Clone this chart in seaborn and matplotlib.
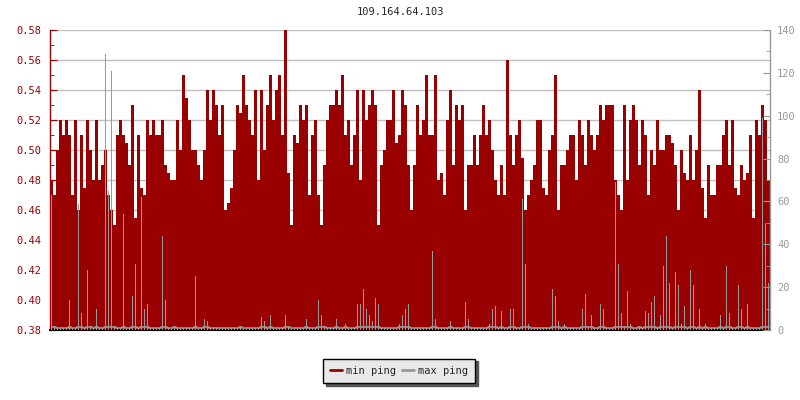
import numpy as np
import pandas as pd
import matplotlib
matplotlib.use('Agg')
import matplotlib.pyplot as plt
import seaborn as sns
from matplotlib.ticker import MultipleLocator, FormatStrFormatter
from matplotlib.lines import Line2D

host = '109.164.64.103'
tick_labels = ['18:10', '20:11', '22:13', '00:14', '02:15', '04:16',
               '06:17', '08:19', '10:20', '12:22', '14:23', '16:24']

# one sample every 6 minutes, 24 hours
min_ping = [
    0.48, 0.47, 0.50, 0.52, 0.51, 0.52, 0.51, 0.47, 0.52, 0.46,
    0.51, 0.475, 0.52, 0.50, 0.48, 0.52, 0.48, 0.49, 0.50, 0.47,
    0.46, 0.45, 0.51, 0.52, 0.51, 0.505, 0.49, 0.53, 0.455, 0.51,
    0.475, 0.47, 0.52, 0.51, 0.52, 0.51, 0.51, 0.52, 0.49, 0.485,
    0.48, 0.48, 0.52, 0.50, 0.55, 0.535, 0.52, 0.50,
    0.50, 0.49, 0.48, 0.50, 0.54, 0.52, 0.54, 0.53, 0.51, 0.53,
    0.46, 0.465, 0.475, 0.50, 0.53, 0.525, 0.55, 0.53, 0.52, 0.51,
    0.54, 0.48, 0.54, 0.50, 0.53, 0.55, 0.52, 0.54, 0.55, 0.51,
    0.58, 0.485, 0.45, 0.51, 0.505, 0.53, 0.52, 0.53, 0.47, 0.51,
    0.52, 0.47, 0.45, 0.49, 0.52, 0.53, 0.53, 0.54,
    0.53, 0.55, 0.51, 0.52, 0.49, 0.51, 0.54, 0.48, 0.54, 0.52,
    0.53, 0.54, 0.53, 0.45, 0.49, 0.50, 0.52, 0.52, 0.54, 0.505,
    0.51, 0.54, 0.53, 0.49, 0.46, 0.49, 0.53, 0.51, 0.52, 0.55,
    0.51, 0.51, 0.55, 0.48, 0.485, 0.47, 0.52, 0.54, 0.49, 0.53,
    0.52, 0.53, 0.46, 0.49, 0.49, 0.51, 0.49, 0.51,
    0.53, 0.51, 0.52, 0.50, 0.48, 0.47, 0.49, 0.47, 0.56, 0.51,
    0.49, 0.51, 0.52, 0.495, 0.46, 0.47, 0.48, 0.49, 0.52, 0.52,
    0.475, 0.47, 0.50, 0.51, 0.55, 0.46, 0.49, 0.49, 0.50, 0.51,
    0.51, 0.48, 0.52, 0.51, 0.49, 0.52, 0.51, 0.50, 0.51, 0.53,
    0.52, 0.53, 0.53, 0.53, 0.48, 0.47, 0.46, 0.53,
    0.48, 0.52, 0.53, 0.52, 0.49, 0.52, 0.51, 0.47, 0.50, 0.49,
    0.52, 0.50, 0.50, 0.51, 0.51, 0.505, 0.49, 0.46, 0.50, 0.485,
    0.48, 0.51, 0.48, 0.50, 0.54, 0.475, 0.455, 0.49, 0.47, 0.47,
    0.49, 0.49, 0.51, 0.52, 0.49, 0.52, 0.475, 0.47, 0.49, 0.48,
    0.485, 0.51, 0.455, 0.52, 0.51, 0.53, 0.52, 0.48,
]

max_ping = [
    63, 2, 1, 1, 1, 1, 14, 1, 1, 59, 8, 1, 28, 2, 1, 10, 1, 1, 129, 65,
    121, 2, 1, 1, 54, 1, 1, 16, 31, 1, 62, 10, 12, 1, 1, 1, 1, 44, 14, 1,
    1, 2, 1, 1, 1, 1, 1, 1,
    25, 1, 1, 5, 4, 1, 1, 1, 1, 1, 1, 1, 1, 1, 1, 2, 1, 1, 1, 1,
    1, 1, 6, 4, 1, 7, 1, 1, 1, 1, 7, 2, 1, 1, 1, 1, 1, 5, 1, 1,
    1, 14, 7, 2, 1, 1, 1, 5,
    1, 1, 3, 1, 1, 1, 12, 12, 19, 10, 7, 4, 15, 12, 1, 1, 1, 1, 1, 1,
    3, 7, 10, 12, 1, 1, 1, 1, 1, 1, 1, 37, 5, 1, 1, 1, 1, 4, 1, 1,
    1, 1, 13, 5, 1, 1, 1, 1,
    1, 1, 3, 10, 11, 1, 9, 1, 1, 10, 10, 1, 1, 61, 31, 3, 1, 1, 1, 1,
    1, 1, 1, 19, 16, 4, 1, 3, 1, 1, 1, 1, 1, 10, 17, 2, 7, 1, 1, 12,
    10, 1, 1, 1, 69, 31, 8, 2,
    18, 3, 1, 1, 2, 1, 9, 8, 13, 16, 1, 7, 30, 44, 22, 1, 27, 21, 3, 11,
    1, 28, 21, 1, 10, 1, 3, 1, 1, 1, 1, 7, 1, 30, 8, 1, 1, 21, 10, 1,
    12, 1, 1, 1, 1, 99, 50, 22,
]

step = 6
df = pd.DataFrame({'minute': np.arange(len(min_ping)) * step,
                   'min ping': min_ping, 'max ping': max_ping})
end = len(df) * step

red = '#990000'
gray = '#999999'

sns.set_style('white')
plt.rcParams['font.family'] = ['DejaVu Sans Mono']
plt.rcParams['font.size'] = 7.5

fig = plt.figure(figsize=(8, 4), dpi=100)
ax = fig.add_axes([50 / 800, 70 / 400, 720 / 800, 300 / 400])
ax2 = ax.twinx()

xs = np.append(df['minute'].values, end)
ax.fill_between(xs, np.append(df['min ping'].values, min_ping[-1]), 0.38,
                step='post', color=red, lw=0, zorder=2)

# max ping: thin spikes plus the continuous floor line
ax2.bar(df['minute'] + step / 2, df['max ping'], width=2, color=gray, lw=0,
        antialiased=False)
floor = df['max ping'].clip(upper=1.5)
sns.lineplot(x=df['minute'] + step / 2, y=floor, ax=ax2, color=gray,
             lw=1.2, drawstyle='steps-mid')

ax.set_xlim(0, end)
ax.set_ylim(0.38, 0.58)
ax2.set_ylim(0, 140)
ax2.set_ylabel('')
ax.set_xlabel('')

ax.set_xticks(np.arange(len(tick_labels)) * 121.3, tick_labels)
ax.yaxis.set_major_locator(MultipleLocator(0.02))
ax.yaxis.set_minor_locator(MultipleLocator(0.01))
ax.yaxis.set_major_formatter(FormatStrFormatter('%.2f'))
ax2.yaxis.set_major_locator(MultipleLocator(20))
ax2.yaxis.set_minor_locator(MultipleLocator(10))

ax.tick_params(axis='x', direction='in', length=4, color='black', pad=5,
               labelsize=7.5, labelcolor='black')
ax.tick_params(axis='y', which='major', direction='in', length=5, color=red,
               pad=6, labelsize=7.5, labelcolor=red, left=True)
ax.tick_params(axis='y', which='minor', direction='in', length=3, color=red,
               left=True)
ax2.tick_params(axis='y', which='major', direction='in', length=5, color=gray,
                pad=5, labelsize=7.5, labelcolor=gray, right=True)
ax2.tick_params(axis='y', which='minor', direction='in', length=3, color=gray,
                right=True)
ax2.set_xticks([])

ax.yaxis.grid(True, color='#c0c0c0', lw=1)
ax.set_axisbelow(True)

for a in (ax, ax2):
    a.spines['top'].set_visible(False)
ax.spines['right'].set_visible(False)
ax2.spines['left'].set_visible(False)
ax2.spines['bottom'].set_visible(False)
ax.spines['left'].set_color(red)
ax.spines['left'].set_linewidth(1)
ax2.spines['right'].set_color(gray)
ax2.spines['right'].set_linewidth(1)
ax.spines['bottom'].set_color('black')
ax.spines['bottom'].set_linewidth(1.5)
ax.spines['bottom'].set_zorder(5)

fig.text(0.5, 1 - 12 / 400, host, ha='center', va='center', fontsize=7.5)

handles = [Line2D([0], [0], color=red, lw=2), Line2D([0], [0], color=gray, lw=2)]
fig.legend(handles, ['min ping', 'max ping'], loc='center',
           bbox_to_anchor=(399 / 800, 1 - 371 / 400), ncol=2, frameon=True,
           fancybox=False, facecolor='#e8e8e8', edgecolor='black',
           framealpha=1, handlelength=1.1, handletextpad=0.4,
           columnspacing=0.6, borderpad=0.7,
           shadow={'color': '#555555', 'alpha': 1})

fig.savefig('out.png', dpi=100)
